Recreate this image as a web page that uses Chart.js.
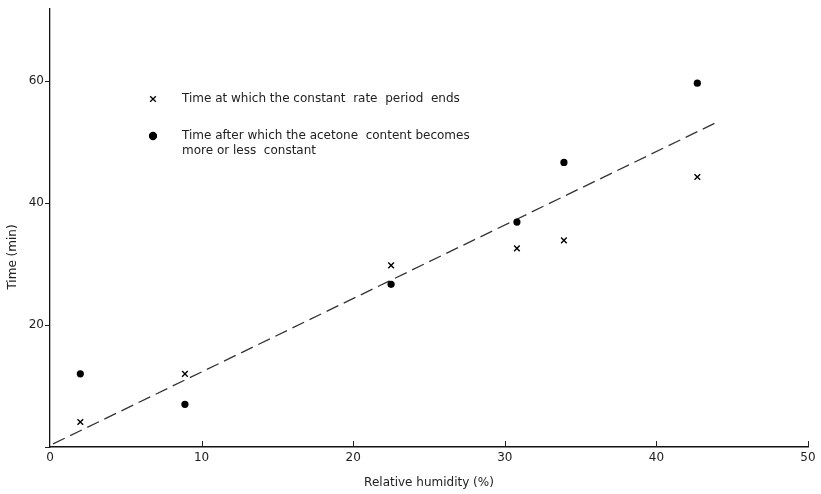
<!DOCTYPE html>
<html>
<head>
<meta charset="utf-8">
<script src="https://cdn.jsdelivr.net/npm/chart.js@4.4.1/dist/chart.umd.min.js"></script>
<style>
  html, body { margin: 0; padding: 0; background: #fff; }
  #wrap { width: 821px; height: 494px; }
</style>
</head>
<body>
<div id="wrap"><canvas id="chart" width="821" height="494"></canvas></div>
<script>
// relative humidity (%) of each run
var humidity = [2, 8.9, 22.5, 30.8, 33.9, 42.7];
// x : end of the constant rate period (min)
var rateEnd = [4.1, 12, 29.8, 32.6, 33.9, 44.3];
// dots : acetone content more or less constant after (min)
var acetoneConst = [12, 7, 26.7, 36.9, 46.7, 59.7];
// fitted trend, drawn dashed
var fitX = [0.2, 44];
var fitY = [0.5, 53.3];

var xTicks = [0, 10, 20, 30, 40, 50];
var yTicks = [0, 20, 40, 60];

var legendLines = [
  ['Time at which the constant  rate  period  ends'],
  ['Time after which the acetone  content becomes', 'more or less  constant']
];

var FONT = 'DejaVu Sans';
var INK = '#222';

function pairs(xs, ys) {
  return xs.map(function (x, i) { return { x: x, y: ys[i] }; });
}

// small upward tick marks on the humidity axis
var innerTicks = {
  id: 'innerTicks',
  afterDraw: function (chart) {
    var ctx = chart.ctx;
    var xs = chart.scales.x;
    var bottom = chart.chartArea.bottom;
    ctx.save();
    ctx.strokeStyle = INK;
    ctx.lineWidth = 1;
    xTicks.forEach(function (v) {
      if (v === 0) return;
      var px = Math.round(xs.getPixelForValue(v)) + 0.5;
      ctx.beginPath();
      ctx.moveTo(px, bottom);
      ctx.lineTo(px, bottom - 6);
      ctx.stroke();
    });
    ctx.restore();
  }
};

// vertical axis title, sitting a bit below the middle of the axis
var yTitle = {
  id: 'yTitle',
  afterDraw: function (chart) {
    var ctx = chart.ctx;
    ctx.save();
    ctx.translate(13, 257);
    ctx.rotate(-Math.PI / 2);
    ctx.fillStyle = INK;
    ctx.font = '12px "' + FONT + '"';
    ctx.textAlign = 'center';
    ctx.textBaseline = 'middle';
    ctx.fillText('Time (min)', 0, 0);
    ctx.restore();
  }
};

// key written inside the plot, upper left
var keyBox = {
  id: 'keyBox',
  afterDraw: function (chart) {
    var ctx = chart.ctx;
    var styles = ['crossRot', 'circle'];
    var radii = [4, 3.5];
    var rows = [99, 136];
    ctx.save();
    ctx.strokeStyle = '#000';
    ctx.font = '12px "' + FONT + '"';
    ctx.textBaseline = 'middle';
    legendLines.forEach(function (lines, i) {
      ctx.fillStyle = '#000';
      ctx.lineWidth = 1.3;
      Chart.helpers.drawPoint(ctx, { pointStyle: styles[i], radius: radii[i], borderWidth: 1.3 }, 153, rows[i]);
      ctx.fillStyle = INK;
      lines.forEach(function (t, j) {
        ctx.fillText(t, 182, rows[i] + j * 15);
      });
    });
    ctx.restore();
  }
};

new Chart(document.getElementById('chart'), {
  type: 'scatter',
  data: {
    datasets: [{
      label: 'Time at which the constant rate period ends',
      data: pairs(humidity, rateEnd),
      pointStyle: 'crossRot',
      pointRadius: 4,
      borderColor: '#000',
      borderWidth: 1.4
    }, {
      label: 'Time after which the acetone content becomes more or less constant',
      data: pairs(humidity, acetoneConst),
      pointStyle: 'circle',
      pointRadius: 3.6,
      backgroundColor: '#000',
      borderColor: '#000',
      borderWidth: 0
    }, {
      type: 'line',
      label: 'trend',
      data: pairs(fitX, fitY),
      borderColor: '#333',
      borderWidth: 1.3,
      borderDash: [13, 6],
      pointRadius: 0,
      fill: false
    }]
  },
  options: {
    responsive: false,
    animation: false,
    layout: { padding: { top: 8, right: 13, left: 0, bottom: 0 } },
    plugins: {
      legend: { display: false },
      tooltip: { enabled: false }
    },
    scales: {
      x: {
        type: 'linear',
        min: 0,
        max: 50,
        afterBuildTicks: function (s) { s.ticks = xTicks.map(function (v) { return { value: v }; }); },
        afterFit: function (s) { s.height = 47; },
        grid: { display: false, drawTicks: false },
        border: { display: true, color: '#111', width: 1.5 },
        ticks: { color: INK, font: { family: FONT, size: 12 }, padding: 4 },
        title: {
          display: true,
          text: 'Relative humidity (%)',
          color: INK,
          font: { family: FONT, size: 12 },
          padding: { top: 3 }
        }
      },
      y: {
        type: 'linear',
        min: 0,
        max: 72,
        afterBuildTicks: function (s) { s.ticks = yTicks.map(function (v) { return { value: v }; }); },
        afterFit: function (s) { s.width = 50; },
        grid: { drawOnChartArea: false, drawTicks: true, tickLength: 5, color: INK },
        border: { display: true, color: '#111', width: 1.3 },
        ticks: {
          color: INK,
          font: { family: FONT, size: 12 },
          padding: 1,
          callback: function (v) { return v === 0 ? '' : v; }
        }
      }
    }
  },
  plugins: [innerTicks, yTitle, keyBox]
});
</script>
</body>
</html>
